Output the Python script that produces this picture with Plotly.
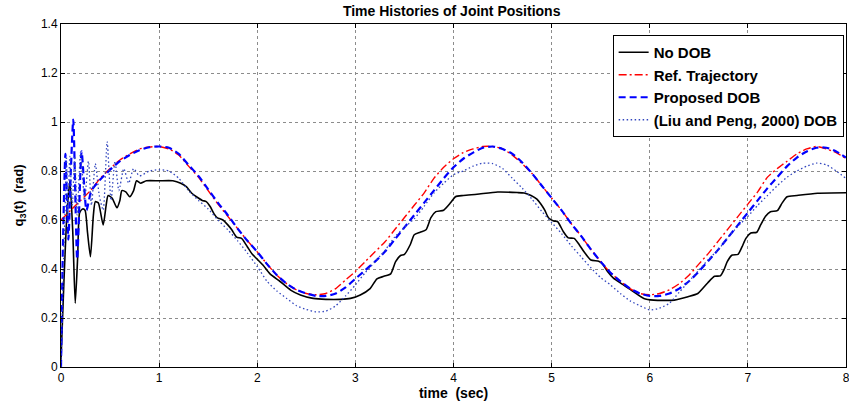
import plotly.graph_objects as go

# ---------------- data ----------------
ref_t = [round(0.1 * i, 1) for i in range(81)]
ref_q = [0.60, 0.64, 0.68, 0.72, 0.77, 0.81, 0.845, 0.87, 0.89, 0.898,
         0.90, 0.89, 0.865, 0.82, 0.775, 0.72, 0.665, 0.615, 0.565, 0.515,
         0.47, 0.42, 0.375, 0.34, 0.315, 0.30, 0.295, 0.30, 0.32, 0.355,
         0.39, 0.43, 0.47, 0.51, 0.56, 0.61, 0.66, 0.71, 0.77, 0.815,
         0.85, 0.875, 0.89, 0.90, 0.90, 0.89, 0.865, 0.83, 0.79, 0.74,
         0.69, 0.64, 0.585, 0.535, 0.48, 0.43, 0.385, 0.35, 0.32, 0.30,
         0.295, 0.30, 0.315, 0.34, 0.375, 0.42, 0.465, 0.515, 0.565, 0.615,
         0.665, 0.715, 0.775, 0.81, 0.84, 0.87, 0.89, 0.90, 0.89, 0.875,
         0.85]

nodob_pts = [
    (0.00, 0.03), (0.03, 0.35), (0.06, 0.62), (0.09, 0.76), (0.12, 0.55),
    (0.145, 0.26), (0.17, 0.45), (0.19, 0.63), (0.22, 0.645), (0.245, 0.64),
    (0.27, 0.55), (0.30, 0.45), (0.33, 0.62), (0.35, 0.675), (0.38, 0.67),
    (0.43, 0.58), (0.46, 0.66), (0.48, 0.70), (0.52, 0.69), (0.57, 0.65),
    (0.60, 0.68), (0.62, 0.72), (0.66, 0.715), (0.70, 0.695), (0.74, 0.72),
    (0.77, 0.76), (0.81, 0.75), (0.87, 0.76), (1.00, 0.76), (1.14, 0.76),
    (1.22, 0.75), (1.28, 0.735), (1.33, 0.71), (1.38, 0.695), (1.44, 0.68),
    (1.48, 0.675), (1.52, 0.655), (1.56, 0.625), (1.59, 0.61), (1.65, 0.60),
    (1.70, 0.58), (1.74, 0.56), (1.79, 0.53), (1.84, 0.525), (1.90, 0.49),
    (1.95, 0.46), (2.00, 0.44), (2.06, 0.415), (2.13, 0.38), (2.23, 0.35),
    (2.34, 0.314), (2.44, 0.294), (2.57, 0.28), (2.70, 0.276), (2.85, 0.276),
    (2.95, 0.28), (3.05, 0.294), (3.15, 0.32), (3.22, 0.36), (3.29, 0.37),
    (3.36, 0.38), (3.41, 0.43), (3.46, 0.455), (3.50, 0.46), (3.56, 0.50),
    (3.60, 0.54), (3.66, 0.55), (3.72, 0.56), (3.77, 0.61), (3.82, 0.634),
    (3.90, 0.64), (3.97, 0.67), (4.02, 0.695), (4.10, 0.70), (4.24, 0.705),
    (4.45, 0.714), (4.65, 0.712), (4.72, 0.71), (4.79, 0.70), (4.85, 0.685),
    (4.89, 0.665), (4.93, 0.64), (4.97, 0.608), (5.02, 0.596), (5.06, 0.594),
    (5.12, 0.552), (5.17, 0.527), (5.23, 0.525), (5.28, 0.50), (5.33, 0.47),
    (5.40, 0.437), (5.48, 0.432), (5.52, 0.42), (5.57, 0.39), (5.63, 0.363),
    (5.70, 0.343), (5.81, 0.314), (5.94, 0.28), (6.04, 0.273), (6.15, 0.272),
    (6.25, 0.273), (6.39, 0.287), (6.49, 0.30), (6.59, 0.343), (6.66, 0.37),
    (6.72, 0.372), (6.76, 0.40), (6.79, 0.43), (6.84, 0.457), (6.90, 0.46),
    (6.94, 0.49), (6.98, 0.525), (7.03, 0.547), (7.09, 0.55), (7.13, 0.58),
    (7.18, 0.615), (7.23, 0.634), (7.30, 0.638), (7.35, 0.67), (7.40, 0.695),
    (7.50, 0.70), (7.71, 0.709), (8.00, 0.711),
]

proposed_pts = [
    (0.00, 0.0), (0.02, 0.5), (0.045, 0.87), (0.075, 0.52), (0.10, 0.80),
    (0.125, 1.01), (0.165, 0.44), (0.21, 0.88), (0.26, 0.64), (0.31, 0.72),
    (0.40, 0.765), (0.50, 0.805), (0.6, 0.84), (0.7, 0.865), (0.8, 0.885),
    (0.9, 0.897), (1.0, 0.90), (1.1, 0.895), (1.2, 0.87), (1.3, 0.825),
    (1.4, 0.78), (1.5, 0.725), (1.6, 0.67), (1.7, 0.62), (1.8, 0.565),
    (1.9, 0.515), (2.0, 0.47), (2.1, 0.42), (2.2, 0.375), (2.3, 0.34),
    (2.4, 0.315), (2.5, 0.30), (2.6, 0.29), (2.7, 0.29), (2.8, 0.30),
    (2.9, 0.325), (3.0, 0.36), (3.1, 0.395), (3.2, 0.43), (3.3, 0.47),
    (3.4, 0.52), (3.5, 0.57), (3.6, 0.62), (3.7, 0.67), (3.8, 0.72),
    (3.9, 0.77), (4.0, 0.815), (4.1, 0.85), (4.2, 0.875), (4.3, 0.895),
    (4.4, 0.90), (4.5, 0.89), (4.6, 0.87), (4.7, 0.835), (4.8, 0.79),
    (4.9, 0.74), (5.0, 0.69), (5.1, 0.64), (5.2, 0.585), (5.3, 0.535),
    (5.4, 0.48), (5.5, 0.43), (5.6, 0.385), (5.7, 0.35), (5.8, 0.32),
    (5.9, 0.30), (6.0, 0.29), (6.1, 0.29), (6.2, 0.30), (6.3, 0.32),
    (6.4, 0.35), (6.5, 0.39), (6.6, 0.435), (6.7, 0.48), (6.8, 0.53),
    (6.9, 0.58), (7.0, 0.63), (7.1, 0.68), (7.2, 0.73), (7.3, 0.775),
    (7.4, 0.82), (7.5, 0.855), (7.6, 0.88), (7.7, 0.895), (7.8, 0.895),
    (7.9, 0.88), (8.0, 0.855),
]

liu_pts = [
    (0.00, 0.0), (0.02, 0.35), (0.04, 0.62), (0.055, 0.86), (0.07, 0.62),
    (0.09, 0.86), (0.115, 0.66), (0.14, 0.86), (0.165, 0.62), (0.20, 0.88),
    (0.24, 0.68), (0.28, 0.84), (0.31, 0.66), (0.35, 0.83), (0.39, 0.70),
    (0.43, 0.64), (0.47, 0.92), (0.51, 0.68), (0.55, 0.84), (0.59, 0.72),
    (0.64, 0.81), (0.69, 0.75), (0.74, 0.81), (0.80, 0.78), (0.9, 0.80),
    (1.0, 0.805), (1.1, 0.80), (1.2, 0.77), (1.3, 0.72), (1.4, 0.68),
    (1.5, 0.645), (1.6, 0.60), (1.7, 0.56), (1.8, 0.515), (1.9, 0.465),
    (2.0, 0.41), (2.1, 0.35), (2.2, 0.31), (2.3, 0.28), (2.4, 0.25),
    (2.5, 0.235), (2.6, 0.225), (2.7, 0.228), (2.8, 0.25), (2.9, 0.29),
    (3.0, 0.335), (3.1, 0.385), (3.2, 0.43), (3.3, 0.475), (3.4, 0.53),
    (3.5, 0.57), (3.6, 0.605), (3.7, 0.655), (3.8, 0.71), (3.9, 0.75),
    (4.0, 0.785), (4.1, 0.80), (4.2, 0.82), (4.3, 0.832), (4.4, 0.83),
    (4.5, 0.81), (4.6, 0.77), (4.7, 0.73), (4.8, 0.685), (4.9, 0.635),
    (5.0, 0.59), (5.1, 0.545), (5.2, 0.495), (5.3, 0.45), (5.4, 0.405),
    (5.5, 0.365), (5.6, 0.335), (5.7, 0.30), (5.8, 0.27), (5.9, 0.25),
    (6.0, 0.233), (6.1, 0.24), (6.2, 0.26), (6.3, 0.305), (6.4, 0.35),
    (6.5, 0.395), (6.6, 0.44), (6.7, 0.48), (6.8, 0.53), (6.9, 0.575),
    (7.0, 0.615), (7.1, 0.66), (7.2, 0.70), (7.3, 0.74), (7.4, 0.775),
    (7.5, 0.80), (7.6, 0.82), (7.7, 0.832), (7.8, 0.825), (7.9, 0.80),
    (8.0, 0.77),
]

series_names = ["No DOB", "Ref. Trajectory", "Proposed DOB", "(Liu and Peng, 2000) DOB"]
x_ticks = [0, 1, 2, 3, 4, 5, 6, 7, 8]
y_ticks = [0, 0.2, 0.4, 0.6, 0.8, 1.0, 1.2, 1.4]
y_tick_text = ["0", "0.2", "0.4", "0.6", "0.8", "1", "1.2", "1.4"]

# ---------------- figure ----------------
def unzip(pts):
    return [p[0] for p in pts], [p[1] for p in pts]

FONT = "Liberation Sans, Arial, sans-serif"
fig = go.Figure()

bt, bq = unzip(nodob_pts)
fig.add_trace(go.Scatter(x=bt, y=bq, mode="lines", name="<b>" + series_names[0] + "</b>",
                         line=dict(color="black", width=1.6, shape="spline", smoothing=0.6)))
fig.add_trace(go.Scatter(x=ref_t, y=ref_q, mode="lines", name="<b>" + series_names[1] + "</b>",
                         line=dict(color="#ff0000", width=1.4, dash="8px,3px,2px,3px",
                                   shape="spline", smoothing=0.6)))
pt, pq = unzip(proposed_pts)
fig.add_trace(go.Scatter(x=pt, y=pq, mode="lines", name="<b>" + series_names[2] + "</b>",
                         line=dict(color="#0000ff", width=2.2, dash="7px,4px",
                                   shape="spline", smoothing=0.6)))
lt, lq = unzip(liu_pts)
fig.add_trace(go.Scatter(x=lt, y=lq, mode="lines", name="<b>" + series_names[3] + "</b>",
                         line=dict(color="rgb(50,70,190)", width=1.3, dash="1.5px,2.5px",
                                   shape="spline", smoothing=0.6)))

axis_common = dict(showline=True, linecolor="black", linewidth=1, mirror="ticks",
                   ticks="inside", ticklen=4, tickcolor="black",
                   showgrid=True, gridcolor="rgb(140,140,140)", gridwidth=1, griddash="dot",
                   zeroline=False, automargin=False, ticklabeloverflow="allow",
                   tickfont=dict(family=FONT, size=12, color="black"))

fig.update_xaxes(range=[0, 8], tickvals=x_ticks, **axis_common,
                 title=dict(text="<b>time\u00a0\u00a0(sec)</b>", standoff=3,
                            font=dict(family=FONT, size=14, color="black")))
fig.update_yaxes(range=[0, 1.4], tickvals=y_ticks, ticktext=y_tick_text, **axis_common,
                 title=dict(text="<b>q<sub>3</sub>(t)\u00a0\u00a0(rad)</b>", standoff=14,
                            font=dict(family=FONT, size=13, color="black")))

fig.update_layout(
    width=849, height=412,
    margin=dict(l=61, r=3, t=24, b=45, autoexpand=False),
    paper_bgcolor="white", plot_bgcolor="white",
    title=dict(text="<b>Time Histories of Joint Positions</b>", x=0.532, xanchor="center",
               y=0.974, yanchor="middle", font=dict(family=FONT, size=14, color="black")),
    legend=dict(x=0.997, y=0.968, xanchor="right", yanchor="top",
                bgcolor="white", bordercolor="black", borderwidth=1,
                font=dict(family=FONT, size=15, color="black"),
                tracegroupgap=0, itemwidth=30),
    showlegend=True,
)

fig.write_html("out.html", config={"displayModeBar": False},
               post_script="document.body.style.margin='0px';document.body.style.overflow='hidden';")
